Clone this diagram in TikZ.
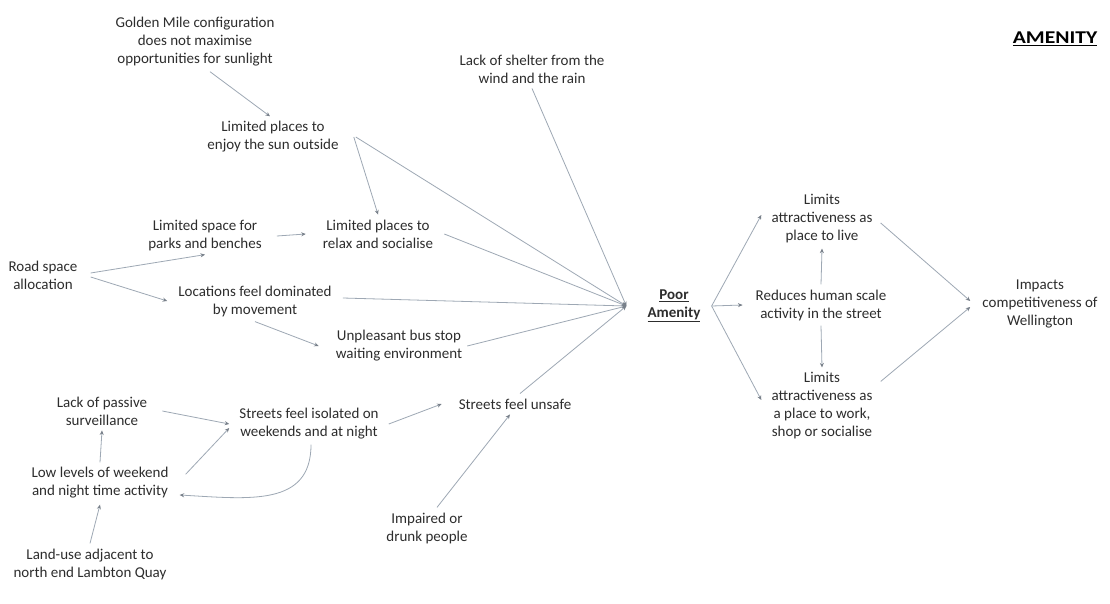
\documentclass[tikz,border=0pt]{standalone}
\usepackage{fontspec}
\setmainfont{Carlito}
\usetikzlibrary{arrows.meta}
\definecolor{inkgrey}{RGB}{45,45,45}
\definecolor{linkgrey}{RGB}{158,168,180}
\definecolor{tipgrey}{RGB}{120,128,138}
\tikzset{
  cause/.style={align=center, text=inkgrey, inner sep=5pt,
    font=\fontsize{15}{18}\selectfont},
  hub/.style={cause, inner xsep=21pt, font=\fontsize{15}{18}\selectfont\bfseries},
  link/.style={draw=linkgrey, line width=0.8pt,
    -{Stealth[length=4.5pt,width=4pt,color=tipgrey]}}
}
\begin{document}
\begin{tikzpicture}[x=1pt,y=-1pt]
\useasboundingbox (0,0) rectangle (1110,604);
\fill[white] (0,0) rectangle (1110,604);

% title
\node[text=black, font=\fontsize{18}{20}\selectfont\bfseries] (title) at (1055,39)
  {\scalebox{1.2}[1]{\underline{AMENITY}}};

% causes
\node[cause] (golden)   at (195,42)  {Golden Mile configuration\\does not maximise\\opportunities for sunlight};
\node[cause] (sun)      at (273,137) {Limited places to\\enjoy the sun outside};
\node[cause] (shelter)  at (532,69)  {Lack of shelter from the\\wind and the rain};
\node[cause] (parks)    at (205,236) {Limited space for\\parks and benches};
\node[cause] (relax)    at (378,234) {Limited places to\\relax and socialise};
\node[cause] (road)     at (43,275)  {Road space\\allocation};
\node[cause] (loc)      at (255,301) {Locations feel dominated\\by movement};
\node[cause] (bus)      at (399,346) {Unpleasant bus stop\\waiting environment};
\node[cause] (passive)  at (102,411) {Lack of passive\\surveillance};
\node[cause] (isolated) at (309,424) {Streets feel isolated on\\weekends and at night};
\node[cause] (unsafe)   at (515,404) {Streets feel unsafe};
\node[cause] (low)      at (100,483) {Low levels of weekend\\and night time activity};
\node[cause] (land)     at (90,564)  {Land-use adjacent to\\north end Lambton Quay};
\node[cause] (impaired) at (427,528) {Impaired or\\drunk people};

% central problem
\node[hub] (poor) at (674,306) {\underline{Poor}\\\underline{Amenity}};

% effects
\node[cause] (live)     at (822,219) {Limits\\attractiveness as\\place to live};
\node[cause] (reduces)  at (821,305) {Reduces human scale\\activity in the street};
\node[cause] (work)     at (822,406) {Limits\\attractiveness as\\a place to work,\\shop or socialise};
\node[cause] (impacts)  at (1040,304) {Impacts\\competitiveness of\\Wellington};

% links into the causes
\draw[link] ([xshift=15pt]golden.south) -- ([xshift=-3pt]sun.north);
\draw[link] ([xshift=10pt]sun.east) -- (relax.north);
\draw[link] ([xshift=10pt]parks.east) -- ([xshift=-12pt]relax.west);
\draw[link] ([xshift=8pt,yshift=2pt]road.east) -- ([yshift=2pt]parks.south);
\draw[link] ([xshift=8pt,yshift=-2pt]road.east) -- ([xshift=-6pt]loc.west);
\draw[link] (loc.south) -- ([xshift=-12pt]bus.west);
\draw[link] ([xshift=10pt]passive.east) -- ([xshift=-5pt]isolated.west);
\draw[link] ([xshift=12pt,yshift=-12pt]low.north east) -- ([xshift=-5pt,yshift=-4pt]isolated.west);
\draw[link] (low.north) -- (passive.south);
\draw[link] (land.north) -- ([yshift=-1pt]low.south);
\draw[link] ([xshift=2pt]isolated.south) .. controls +(0,62) and +(70,4) .. ([xshift=6pt,yshift=-12pt]low.east);
\draw[link] ([xshift=5pt]isolated.east) -- ([xshift=-12pt]unsafe.west);
\draw[link] ([xshift=10pt]impaired.north) -- ([xshift=-5pt]unsafe.south);

% links into the central problem
\draw[link] ([xshift=12pt]sun.east) -- (poor.west);
\draw[link] (shelter.south) -- (poor.west);
\draw[link] ([xshift=6pt]relax.east) -- (poor.west);
\draw[link] ([xshift=6pt,yshift=3pt]loc.east) -- (poor.west);
\draw[link] (bus.east) -- (poor.west);
\draw[link] ([xshift=5pt]unsafe.north) -- (poor.west);

% links out of the central problem
\draw[link] ([xshift=-10pt]poor.east) -- ([xshift=-5pt,yshift=4pt]live.west);
\draw[link] ([xshift=-10pt]poor.east) -- ([xshift=-8pt]reduces.west);
\draw[link] ([xshift=-10pt]poor.east) -- ([xshift=-5pt,yshift=6pt]work.west);
\draw[link] (reduces.north) -- (live.south);
\draw[link] (reduces.south) -- (work.north);
\draw[link] ([xshift=3pt,yshift=-4pt]live.east) -- ([xshift=-7pt,yshift=3pt]impacts.west);
\draw[link] ([xshift=3pt,yshift=-14pt]work.north east) -- ([xshift=-7pt,yshift=-3pt]impacts.west);
\end{tikzpicture}
\end{document}
